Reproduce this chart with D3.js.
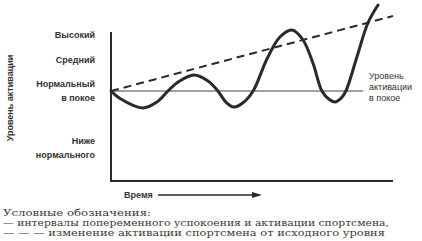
<!DOCTYPE html>
<html>
  <head>
    <meta charset="utf-8">
    <script type="text/javascript" src="https://cdn.jsdelivr.net/npm/d3@7"></script>
    <style>
      body { margin: 0; background: #fff; }
      .lvl { font: bold 9px "Liberation Sans", Arial, sans-serif; fill: #333; }
      .legend { font: 9.5px "DejaVu Serif", serif; fill: #3a3a3a; }
    </style>
  </head>
  <body>
    <svg id="chart" width="422" height="241"></svg>
    <script type="text/javascript">
      // activation curve: time vs activation (0 = rest level)
      var waveTime = [0, 0.32, 1.13, 1.63, 2.02, 2.38, 2.94, 3.44, 3.79, 4.08, 4.36, 4.68,
        5.04, 5.53, 5.99, 6.42, 6.81, 7.16, 7.48, 7.73, 7.94, 8.16, 8.33, 8.72, 9.11, 9.47];
      var waveLevel = [0, -0.75, -1.7, -1.1, 0, 0.9, 1.6, 1.0, 0, -1.13, -1.6, -1.18,
        0, 3.2, 5.4, 6.1, 5.1, 2.8, 0, -0.83, -1.1, -0.72, 0, 3.4, 6.8, 8.6];
      // trend (dashed) line
      var trendTime = [0, 10];
      var trendLevel = [0, 7.5];
      // rest level line
      var restTime = [0, 8.94];
      var restLevel = [0, 0];
      // level labels on the left
      var levelNames = [['Высокий'], ['Средний'], ['Нормальный', 'в покое'], ['Ниже', 'нормального']];
      var levelValues = [5.6, 3.1, 0, -5.7];
      var legendLines = [
        'Условные обозначения:',
        '— интервалы попеременного успокоения и активации спортсмена,',
        '— — — изменение активации спортсмена от исходного уровня'
      ];
      var legendWidths = [148, 386, 382];

      var svg = d3.select('#chart');
      var x = d3.scaleLinear().domain([0, 10]).range([111, 393]);
      var y = d3.scaleLinear().domain([-9, 8.6]).range([181, 5]);
      var ink = '#2a2a2a';

      // axes
      svg.append('line').attr('x1', x(0)).attr('x2', x(0))
        .attr('y1', 32).attr('y2', y(-9))
        .attr('stroke', ink).attr('stroke-width', 2);
      svg.append('line').attr('x1', x(0) - 1).attr('x2', x(10))
        .attr('y1', y(-9)).attr('y2', y(-9))
        .attr('stroke', ink).attr('stroke-width', 2.2);

      var line = d3.line()
        .x(function (d) { return x(d[0]); })
        .y(function (d) { return y(d[1]); });

      // rest line
      svg.append('path').datum(d3.zip(restTime, restLevel))
        .attr('d', line).attr('fill', 'none')
        .attr('stroke', '#444').attr('stroke-width', 1.2);
      // trend
      svg.append('path').datum(d3.zip(trendTime, trendLevel))
        .attr('d', line).attr('fill', 'none')
        .attr('stroke', ink).attr('stroke-width', 2)
        .attr('stroke-dasharray', '8,5');
      // wave
      svg.append('path').datum(d3.zip(waveTime, waveLevel))
        .attr('d', line.curve(d3.curveCatmullRom)).attr('fill', 'none')
        .attr('stroke', ink).attr('stroke-width', 3)
        .attr('stroke-linecap', 'round');

      // level labels
      levelNames.forEach(function (names, i) {
        var yc = y(levelValues[i]) - (names.length - 1) * 7;
        names.forEach(function (n, j) {
          svg.append('text').attr('class', 'lvl')
            .attr('x', 95).attr('y', yc + j * 14 + 3)
            .attr('text-anchor', 'end').text(n);
        });
      });

      // y title
      svg.append('text').attr('class', 'lvl')
        .attr('transform', 'translate(13,' + 98 + ') rotate(-90)')
        .attr('text-anchor', 'middle').text('Уровень активации');

      // right label
      ['Уровень', 'активации', 'в покое'].forEach(function (n, j) {
        svg.append('text').attr('class', 'lvl').style('font-weight', 'normal')
          .attr('x', 369).attr('y', 79 + j * 11).text(n);
      });

      // x title with arrow
      svg.append('text').attr('class', 'lvl')
        .attr('x', 124).attr('y', 198).text('Время');
      svg.append('line').attr('x1', 158).attr('x2', 253)
        .attr('y1', 195).attr('y2', 195)
        .attr('stroke', ink).attr('stroke-width', 1.5);
      svg.append('path').attr('d', 'M252,192 L262,195 L252,198 Z').attr('fill', ink);

      // legend
      legendLines.forEach(function (t, i) {
        svg.append('text').attr('class', 'legend')
          .attr('x', 3).attr('y', 216 + i * 10)
          .attr('textLength', legendWidths[i])
          .attr('lengthAdjust', 'spacingAndGlyphs').text(t);
      });
    </script>
  </body>
</html>
